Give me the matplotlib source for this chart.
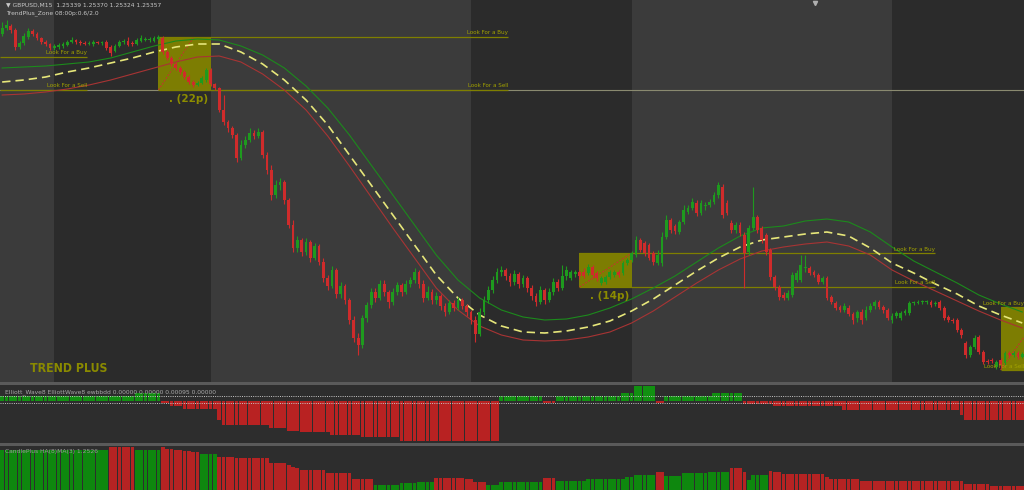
import matplotlib
matplotlib.use('Agg')
import matplotlib.pyplot as plt
from matplotlib.patches import Rectangle
import numpy as np

# ---------------- data (price in points, 1 point = 0.00001) ----------------
open_ = [466,472,474,470,453,457,463,469,466,462,
         458,456,452,453,454,455,458,460,458,457,
         456,456,458,457,458,453,449,454,458,459,
         457,456,459,460,460,459,461,462,448,442,
         436,432,428,423,418,415,417,420,430,416,
         412,390,378,372,365,342,355,360,367,364,
         368,345,330,305,315,318,300,275,252,260,
         248,258,242,254,238,222,214,230,206,214,
         200,180,162,155,182,195,208,202,216,208,
         198,208,215,208,216,220,228,216,202,208,
         200,204,194,188,197,192,200,194,188,180,
         166,188,200,210,220,228,230,224,218,226,
         216,222,212,204,198,210,200,208,218,212,
         224,222,226,228,228,227,233,227,217,218,
         223,225,228,227,237,240,245,260,257,255,
         247,237,237,263,280,274,268,278,288,292,
         297,287,294,295,298,305,313,297,277,270,
         275,265,248,272,283,272,265,250,223,213,
         205,202,205,220,220,232,232,228,225,218,
         222,203,197,193,190,192,186,182,188,182,
         190,194,198,193,190,180,184,182,187,187,
         197,197,198,198,198,196,198,192,183,180,
         180,170,157,145,153,163,148,139,140,133,
         140,137,147,145,147,143]
close_ = [472,475,470,453,457,464,469,466,462,458,
          456,452,454,455,456,458,460,458,457,456,
          457,458,457,457,452,447,454,458,458,455,
          456,460,462,461,460,462,463,448,442,436,
          432,428,423,418,415,417,422,430,416,412,
          390,378,372,365,342,355,360,367,364,368,
          345,330,305,315,318,300,275,252,260,248,
          258,242,254,238,222,214,230,206,214,200,
          180,162,155,182,195,208,202,216,208,198,
          208,215,208,216,220,228,216,202,208,200,
          204,194,188,197,192,200,194,188,180,166,
          188,200,210,220,228,230,224,218,226,216,
          222,212,204,198,210,200,208,218,212,224,
          230,228,228,224,224,233,225,222,222,223,
          228,228,225,237,240,247,260,250,247,242,
          238,245,263,280,270,269,278,290,292,298,
          287,297,294,298,305,315,285,287,270,275,
          267,247,272,283,270,260,248,223,213,203,
          202,207,225,227,235,232,227,225,218,222,
          202,198,192,190,194,186,180,188,180,190,
          194,198,193,190,182,184,187,187,189,197,
          197,198,198,198,195,197,192,182,180,179,
          170,165,145,153,162,148,138,138,139,138,
          135,147,145,147,143,146]
high_ = [478,480,476,472,459,467,472,471,468,463,
         460,457,456,457,458,460,463,461,460,459,
         459,460,459,459,460,455,456,460,461,463,
         459,462,465,463,463,464,465,464,450,444,
         438,434,430,425,420,419,424,432,432,417,
         413,405,380,374,367,360,364,372,370,372,
         370,348,335,320,322,320,302,280,264,262,
         262,260,257,256,242,225,234,232,218,216,
         202,184,167,185,198,212,212,220,220,210,
         212,218,217,220,223,232,230,220,214,211,
         208,206,197,200,200,203,202,196,190,184,
         192,204,214,224,232,234,232,227,230,228,
         225,224,215,207,214,212,212,222,221,235,
         234,230,230,230,232,236,235,229,224,225,
         230,230,230,239,242,249,264,262,259,257,
         249,250,268,285,282,276,280,295,295,302,
         300,300,298,301,308,318,316,300,280,278,
         278,268,275,313,285,274,267,252,225,215,
         208,210,228,230,245,245,234,230,227,224,
         224,205,199,195,197,195,188,190,191,194,
         197,200,200,195,192,187,189,189,191,199,
         199,200,200,200,200,199,200,194,185,182,
         182,172,159,155,165,165,150,141,142,140,
         142,149,149,149,149,148]
low_ = [464,470,467,450,451,455,461,464,460,456,
        454,450,450,451,452,454,457,456,455,455,
        455,454,456,455,450,444,448,453,456,454,
        454,455,458,459,458,458,460,446,440,434,
        430,426,421,416,413,414,416,418,414,410,
        388,375,368,362,338,340,352,358,361,362,
        342,326,300,302,310,296,272,248,248,244,
        245,238,240,235,218,210,212,202,202,196,
        176,158,145,152,178,192,198,200,204,192,
        195,205,204,206,213,217,212,198,200,196,
        196,190,184,186,189,190,191,184,176,158,
        164,185,197,207,217,224,220,214,215,212,
        213,208,200,194,196,196,198,205,209,210,
        220,220,223,221,222,225,222,219,215,216,
        221,223,223,225,235,238,243,248,244,240,
        235,235,234,261,267,266,266,276,286,290,
        284,285,290,293,296,302,282,285,267,267,
        264,212,245,270,267,257,245,220,210,200,
        200,200,203,218,218,228,225,223,216,216,
        200,196,190,188,188,184,176,178,176,180,
        188,191,191,187,180,177,182,180,185,185,
        195,196,196,196,193,194,190,180,178,177,
        168,162,142,143,151,146,136,136,137,131,
        132,135,143,143,141,142]

# moving-average envelope sampled every 5 bars
ma_x = list(range(0, 236, 5))
ma_mid = [418,420,423,428,432,437,442,448,453,456,456,448,436,420,400,375,
          345,315,285,255,225,202,185,174,168,167,169,173,179,189,201,215,
          229,242,253,260,263,266,268,264,252,237,227,216,206,194,185,177]
ma_up = [432,433,434,436,438,442,448,454,459,461,460,454,445,432,414,392,
         365,335,305,275,245,220,202,190,183,180,181,185,192,201,212,224,
         238,252,264,272,274,279,281,278,268,253,239,228,217,205,196,188]
ma_dn = [405,406,408,411,415,420,426,432,438,443,444,438,426,410,390,364,
         334,303,272,242,212,190,174,165,160,159,160,163,168,177,189,203,
         217,230,241,249,253,256,258,254,245,230,219,209,199,189,180,172]

# session (darker) bands, start/end bar index
sessions = [(12, 48), (108, 145), (205, 241)]
# zones: start bar, end bar, buy level, sell level, diagonal end (bar, level), label
zone_start = [36, 133, 230]
zone_end = [48, 145, 236]
zone_buy = [463, 247, 193]
zone_sell = [410, 213, 130]
zone_line_end = [116.5, 215, 235.4]
zone_diag_end = [(44, 462), (145, 247), (235.4, 163)]
zone_pips = ['. (22p)', '. (14p)', None]
prev_buy, prev_sell, prev_end = 443, 410, 19.5

# oscillator histogram (panel 2)
osc = ([4.3]*31 + [7.5]*6 + [-2.5]*2 + [-5]*3 + [-8.5]*8 + [-19.5] + [-24.5]*11 +
       [-27.5]*4 + [-30.5]*3 + [-31.5]*7 + [-34.5]*7 + [-36.5]*9 + [-40.5]*23 +
       [4.3]*10 + [-2.5]*3 + [4.3]*15 + [7.5]*3 + [14.5]*5 + [-2.5]*2 + [4.3]*11 +
       [7.5]*7 + [-3.5]*7 + [-5.5]*16 + [-9.5]*27 + [-14.5] + [-19.5]*14)
osc_levels = [4.2, -2.5]

# candle-plus histogram (panel 3)
ha_h = ([40]*25 + [43]*6 + [40]*6 + [43] + [41, 41, 40, 40, 39, 39, 38, 38] +
        [36]*4 + [33]*4 + [32]*8 + [27]*4 + [25, 23, 22] + [20]*6 + [17]*6 + [11]*5 +
        [5]*6 + [7]*4 + [8]*4 + [12]*5 + [12, 12, 11, 11] + [8]*3 + [5]*3 + [8]*10 +
        [12]*3 + [9]*7 + [11]*9 + [13]*2 + [15]*5 + [18]*2 + [14]*4 + [17]*6 + [18]*5 +
        [22]*3 + [18] + [10] + [15]*4 + [19] + [18]*2 + [16]*10 + [13] + [11]*7 +
        [9]*24 + [6]*6 + [4]*8)
ha_up = ([1]*25 + [0]*6 + [1]*6 + [0] + [0]*8 + [1]*4 + [0]*4 + [0]*8 + [0]*4 + [0]*3 +
         [0]*6 + [0]*6 + [0]*5 + [1]*6 + [1]*4 + [1]*4 + [0]*5 + [0]*4 + [0]*3 + [1]*3 +
         [1]*10 + [0]*3 + [1]*7 + [1]*9 + [1]*2 + [1]*5 + [0]*2 + [1]*4 + [1]*6 + [1]*5 +
         [0]*3 + [0] + [1] + [1]*4 + [0] + [0]*2 + [0]*10 + [0] + [0]*7 + [0]*24 + [0]*6 +
         [0]*8)

# ---------------- drawing ----------------
GREEN = '#1e9a1e'
RED = '#cf2b2b'
OLIVE = '#7f7f00'
OLIVE_TXT = '#a2a200'

o = np.array(open_, float); c = np.array(close_, float)
h = np.array(high_, float); l = np.array(low_, float)
N = len(o)
x = np.arange(N)
XMAX = 235.4

W, H = 1024.0, 490.0
fig = plt.figure(figsize=(10.24, 4.9), dpi=100, facecolor='#5a5a5a')


def rect(top, bottom):
    return [0, 1 - bottom / H, 1, (bottom - top) / H]


ax = fig.add_axes(rect(0, 382))
ax2 = fig.add_axes(rect(385, 443))
ax3 = fig.add_axes(rect(446, 490))
for a in (ax, ax2, ax3):
    a.set_xlim(-0.5, XMAX)
    a.set_xticks([]); a.set_yticks([])
    for s in a.spines.values():
        s.set_visible(False)

# main panel
ax.set_facecolor('#3b3b3b')
ax.set_ylim(118, 500)
for s0, s1 in sessions:
    ax.axvspan(s0, s1, color='#2b2b2b', zorder=0, lw=0)

for zs, ze, zb, zsl in zip(zone_start, zone_end, zone_buy, zone_sell):
    ax.add_patch(Rectangle((zs, zsl), ze - zs, zb - zsl, facecolor='#7d7d02',
                           edgecolor='none', zorder=1))

# full width grey level
ax.axhline(prev_sell, color='#8a8a70', lw=0.8, zorder=1.5)
# previous-day levels
ax.hlines([prev_buy, prev_sell], -0.5, prev_end, colors=OLIVE, lw=0.9, zorder=2)
ax.text(prev_end, prev_buy + 1.5, 'Look For a Buy', ha='right', va='bottom',
        fontsize=4.1, color=OLIVE_TXT, zorder=6)
ax.text(prev_end, prev_sell + 1.5, 'Look For a Sell', ha='right', va='bottom',
        fontsize=4.1, color=OLIVE_TXT, zorder=6)

for zs, zb, zsl, zl, zd, zp, ze in zip(zone_start, zone_buy, zone_sell, zone_line_end,
                                        zone_diag_end, zone_pips, zone_end):
    ax.hlines([zb, zsl], zs, zl, colors=OLIVE, lw=0.9, zorder=2)
    ax.text(zl, zb + 1.5, 'Look For a Buy', ha='right', va='bottom',
            fontsize=4.1, color=OLIVE_TXT, zorder=6)
    ax.text(zl, zsl + 1.5, 'Look For a Sell', ha='right', va='bottom',
            fontsize=4.1, color=OLIVE_TXT, zorder=6)
    ax.plot([zs, zd[0]], [zsl, zd[1]], color='#c83030', lw=0.7,
            ls=(0, (2, 1.5)), zorder=2.5)
    if zp:
        ax.text((zs + ze) / 2 + 1, zsl - 4, zp, ha='center', va='top', fontsize=7.5,
                fontweight='bold', color='#8c8c00', zorder=6)

# envelope lines
ax.plot(ma_x, ma_up, color='#1c8a1c', lw=0.8, zorder=2.6)
ax.plot(ma_x, ma_dn, color='#a83434', lw=0.8, zorder=2.6)
ax.plot(ma_x, ma_mid, color='#e6e67a', lw=1.2, ls=(0, (5, 3)), zorder=2.7)

# candles
up = c >= o
cols = np.where(up, GREEN, RED)
ax.vlines(x, l, h, colors=cols, lw=0.8, zorder=3)
body = np.maximum(np.abs(c - o), 1.0)
ax.bar(x, body, bottom=np.minimum(o, c), width=0.64, color=cols, lw=0, zorder=4)

ax.text(0.029, 1 - 368 / 382, 'TREND PLUS', transform=ax.transAxes, ha='left',
        va='center', fontsize=8.8, fontweight='bold', fontstretch='condensed',
        color='#8a8a00', family='DejaVu Sans', zorder=6)

fig.text(6 / W, 1 - 5 / H, '\u25bc GBPUSD,M15  1.25339 1.25370 1.25324 1.25357',
         fontsize=4.3, color='#c8c8c8', va='center', ha='left')
fig.text(6 / W, 1 - 13 / H, 'TrendPlus_Zone 08:00p:0.6/2.0',
         fontsize=4.3, color='#c8c8c8', va='center', ha='left')
ax.plot([815 / W], [1 - 3 / 382], marker='v', ms=3, color='#b0b0b0',
        transform=ax.transAxes, clip_on=False, zorder=7)

# panel 2: oscillator
ax2.set_facecolor('#2d2d2d')
ax2.set_ylim(-42.5, 15.5)
oscv = np.array(osc, float)
ax2.bar(x, oscv, width=0.88, color=np.where(oscv > 0, '#119011', '#b82222'), lw=0)
for lv in osc_levels:
    ax2.axhline(lv, color='#c8c8c8', lw=0.7, ls=(0, (1, 1.3)))
ax2.text(0.005, 0.93, 'Elliott_Wave8 ElliottWave8 ewbbdd 0.00000 0.00000 0.00095 0.00000',
         transform=ax2.transAxes, fontsize=4.3, color='#a8a8a8', va='top', ha='left')

# panel 3: candle plus histogram
ax3.set_facecolor('#2d2d2d')
ax3.set_ylim(0, 44)
hh = np.array(ha_h, float)
ax3.bar(x, hh, width=0.86, color=np.where(np.array(ha_up) == 1, '#0e870e', '#b52323'), lw=0)
ax3.text(0.005, 0.93, 'CandlePlus HA(8)MA(3) 1.2526', transform=ax3.transAxes,
         fontsize=4.3, color='#9a9a9a', va='top', ha='left')

fig.savefig('out.png', dpi=100, facecolor=fig.get_facecolor())
